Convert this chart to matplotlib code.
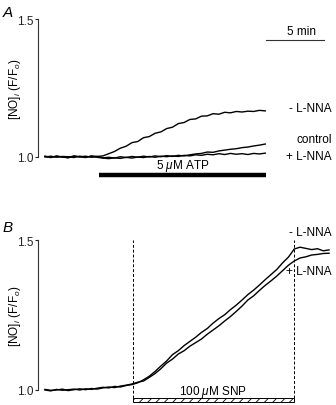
import matplotlib
matplotlib.use('Agg')
import matplotlib.pyplot as plt
from matplotlib.patches import Rectangle

plt.rcParams['font.family'] = ['Liberation Sans', 'DejaVu Sans']
plt.rcParams['mathtext.fontset'] = 'custom'
plt.rcParams['mathtext.rm'] = 'Liberation Sans'
plt.rcParams['mathtext.it'] = 'Liberation Sans:italic'
plt.rcParams['hatch.linewidth'] = 0.6

# ---- panel A : ATP, time in min (0.5 min steps)
t_a = [i * 0.5 for i in range(39)]
minus_lnna_a = [1.002, 0.998, 1.004, 1.000, 0.997, 1.003, 1.001, 0.998, 1.004, 1.002,
                1.004, 1.012, 1.020, 1.032, 1.039, 1.052, 1.056, 1.070, 1.074, 1.086,
                1.091, 1.103, 1.108, 1.121, 1.125, 1.136, 1.138, 1.148, 1.149, 1.157,
                1.155, 1.162, 1.160, 1.165, 1.163, 1.166, 1.165, 1.169, 1.167]
control_a = [1.003, 0.999, 1.002, 1.000, 0.998, 1.004, 1.000, 1.003, 0.999, 1.002,
             0.997, 0.999, 0.996, 1.001, 0.998, 1.002, 0.999, 1.003, 1.000, 1.004,
             1.001, 1.005, 1.002, 1.006, 1.004, 1.008, 1.011, 1.013, 1.018, 1.017,
             1.022, 1.025, 1.028, 1.030, 1.034, 1.036, 1.040, 1.043, 1.047]
plus_lnna_a = [1.000, 1.003, 0.999, 1.002, 1.001, 0.998, 1.003, 1.000, 1.002, 0.999,
               0.996, 0.994, 0.997, 0.995, 0.999, 0.996, 1.000, 0.998, 1.002, 0.999,
               1.003, 1.001, 1.004, 1.002, 1.006, 1.004, 1.008, 1.006, 1.010, 1.008,
               1.012, 1.009, 1.013, 1.010, 1.012, 1.009, 1.013, 1.011, 1.014]
atp_on, atp_off = 4.65, 19.1

# ---- panel B : SNP
t_b = [i * 0.5 for i in range(50)]
minus_lnna_b = [1.000, 0.997, 1.002, 0.999, 1.001, 1.003, 1.000, 1.004, 1.002, 1.006,
                1.009, 1.007, 1.012, 1.010, 1.015, 1.018, 1.024, 1.034, 1.046, 1.062,
                1.080, 1.097, 1.118, 1.131, 1.148, 1.162, 1.176, 1.192, 1.205, 1.223,
                1.238, 1.251, 1.268, 1.283, 1.300, 1.318, 1.333, 1.350, 1.368, 1.385,
                1.402, 1.424, 1.443, 1.470, 1.476, 1.472, 1.468, 1.471, 1.464, 1.467]
plus_lnna_b = [1.002, 0.999, 1.000, 1.003, 0.998, 1.001, 1.004, 1.001, 1.005, 1.003,
               1.007, 1.010, 1.008, 1.013, 1.016, 1.020, 1.026, 1.030, 1.042, 1.055,
               1.071, 1.090, 1.103, 1.120, 1.131, 1.146, 1.158, 1.170, 1.186, 1.200,
               1.214, 1.230, 1.245, 1.262, 1.280, 1.300, 1.314, 1.332, 1.349, 1.364,
               1.380, 1.398, 1.416, 1.430, 1.440, 1.444, 1.450, 1.452, 1.455, 1.456]
snp_on, snp_off = 7.6, 21.45

W, H = 336, 406
fig = plt.figure(figsize=(W / 100, H / 100), dpi=100)
xlim = (-0.6, 25.1)
fs = 8.5

def make_axes(top_px, bottom_px):
    ax = fig.add_axes([38 / W, (H - bottom_px) / H, 1 - 38 / W, (bottom_px - top_px) / H])
    ax.set_xlim(*xlim)
    ax.set_ylim(1.0, 1.5)
    for s in ['top', 'right', 'bottom']:
        ax.spines[s].set_visible(False)
    ax.spines['left'].set_linewidth(0.8)
    ax.spines['left'].set_color('#333333')
    ax.set_xticks([])
    ax.set_yticks([1.0, 1.5])
    ax.set_yticklabels(['1.0', '1.5'])
    ax.tick_params(axis='y', length=2.5, width=0.8, pad=1, labelsize=fs, colors='#222222')
    fig.text(15 / W, 1 - (top_px + bottom_px) / 2 / H, '[NO]$_i$ (F/F$_o$)', fontsize=fs,
             rotation=90, ha='center', va='center')
    ax.patch.set_alpha(0)
    return ax

axA = make_axes(20, 158)
axA.plot(t_a, minus_lnna_a, color='black', lw=1.0, clip_on=False)
axA.plot(t_a, control_a, color='black', lw=1.0, clip_on=False)
axA.plot(t_a, plus_lnna_a, color='black', lw=1.0, clip_on=False)
axA.plot([atp_on, atp_off], [0.935, 0.935], color='black', lw=3.2, solid_capstyle='butt', clip_on=False)
axA.text((atp_on + atp_off) / 2, 0.972, '5 $\\mathit{\\mu}$M ATP', ha='center', va='center', fontsize=fs)
axA.plot([atp_off, atp_off + 5], [1.424, 1.424], color='#333333', lw=0.8, clip_on=False)
axA.text(atp_off + 3.0, 1.455, '5 min', ha='center', va='center', fontsize=fs)
axA.text(24.74, 1.178, '- L-NNA', ha='right', va='center', fontsize=fs)
axA.text(24.74, 1.065, 'control', ha='right', va='center', fontsize=fs)
axA.text(24.74, 1.005, '+ L-NNA', ha='right', va='center', fontsize=fs)

axB = make_axes(241, 391)
axB.plot(t_b, minus_lnna_b, color='black', lw=1.0, clip_on=False)
axB.plot(t_b, plus_lnna_b, color='black', lw=1.0, clip_on=False)
for x in (snp_on, snp_off):
    axB.plot([x, x], [0.973, 1.5], color='black', lw=0.7, ls=(0, (3, 2)), clip_on=False)
axB.add_patch(Rectangle((snp_on, 0.96), snp_off - snp_on, 0.013, facecolor='white',
                        edgecolor='black', lw=0.7, hatch='////', clip_on=False))
axB.text((snp_on + snp_off) / 2, 0.995, '100 $\\mathit{\\mu}$M SNP', ha='center', va='center', fontsize=fs)
axB.text(24.74, 1.527, '- L-NNA', ha='right', va='center', fontsize=fs)
axB.text(24.74, 1.397, '+ L-NNA', ha='right', va='center', fontsize=fs)

fig.text(8 / W, 1 - 13 / H, 'A', fontsize=11, style='italic', ha='center', va='center')
fig.text(8 / W, 1 - 228 / H, 'B', fontsize=11, style='italic', ha='center', va='center')

fig.savefig('out.png', dpi=100)
